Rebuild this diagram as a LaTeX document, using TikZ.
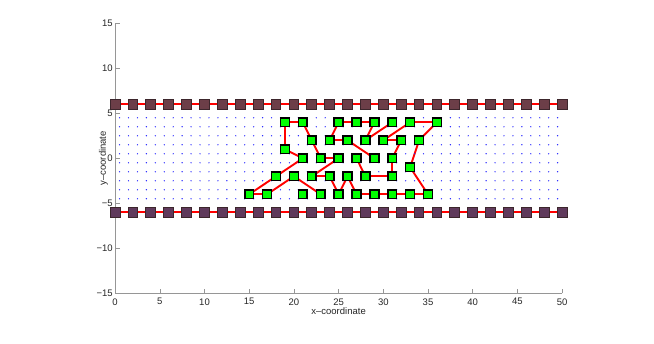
\documentclass[tikz,border=0pt]{standalone}
\usepackage{fontspec}
\setmainfont{Liberation Sans}
\pgfdeclarelayer{bg}
\pgfsetlayers{bg,main}
\definecolor{gfill}{RGB}{0,255,0}
\definecolor{walltop}{RGB}{108,62,72}
\definecolor{wallbot}{RGB}{96,58,92}
\definecolor{wallline}{RGB}{60,38,44}
\definecolor{dotc}{RGB}{30,30,255}
\definecolor{axisc}{RGB}{150,150,150}
\begin{document}
\begin{tikzpicture}[x=8.94pt,y=9pt,
  gnode/.style={rectangle, minimum size=8.8pt, inner sep=0pt, fill=gfill, draw=black, line width=1.5pt},
  wallbox/.style={rectangle, minimum size=9.8pt, inner sep=0pt, draw=wallline, line width=1pt},
  link/.style={red, line width=1.9pt},
  axisline/.style={axisc, line width=1.1pt},
  ticklbl/.style={font=\fontsize{9.5}{11}\selectfont, inner sep=0pt, text=black!85},
  axlbl/.style={font=\fontsize{9.5}{11}\selectfont, inner sep=0pt, text=black!85}]
\useasboundingbox (-12.875,-20.633) rectangle (60.28,17.589);
% grid of dots
\foreach \i in {0,...,49}{\foreach \j in {0,...,9}{\fill[dotc] (\i+0.5,\j-4.5) circle (0.7pt);}}
% axes
\draw[axisline] (0,15) -- (0,-15) -- (50,-15);
\foreach \x in {0,5,...,50}{
  \draw[axisline, line width=0.6pt] (\x,-15) -- ++(0,0.5);
  \node[ticklbl, anchor=north] (xt\x) at (\x,-15.55) {\x};
}
\foreach \y/\t in {15/15,10/10,5/5,0/0,-5/−5,-10/−10,-15/−15}{
  \draw[axisline, line width=0.6pt] (0,\y) -- ++(0.5,0);
  \node[ticklbl, anchor=east] (yt\t) at (-0.25,\y) {\t};
}
\node[axlbl, anchor=base] (xlab) at (25,-17.4) {x–coordinate};
\node[axlbl, rotate=90] (ylab) at (-1.3,0) {y–coordinate};
% walls
\foreach \i in {0,...,25}{
  \node[wallbox, fill=walltop] (wt\i) at (2*\i,6) {};
  \node[wallbox, fill=wallbot] (wb\i) at (2*\i,-6) {};
}
\begin{pgfonlayer}{bg}
\draw[link] (wt0.center) -- (wt25.center);
\draw[link] (wb0.center) -- (wb25.center);
\end{pgfonlayer}
% green nodes
\foreach \x in {19,21,25,27,29,31,33,36}{\node[gnode] (a\x) at (\x,4) {};}
\foreach \x in {22,24,26,28,30,32,34}{\node[gnode] (b\x) at (\x,2) {};}
\node[gnode] (c19) at (19,1) {};
\foreach \x in {21,23,25,27,29,31}{\node[gnode] (d\x) at (\x,0) {};}
\node[gnode] (e33) at (33,-1) {};
\foreach \x in {18,20,22,24,26,28,31}{\node[gnode] (f\x) at (\x,-2) {};}
\foreach \x in {15,17,21,23,25,27,29,31,33,35}{\node[gnode] (h\x) at (\x,-4) {};}
% links
\begin{pgfonlayer}{bg}
\foreach \p/\q in {a19/a21, a19/c19, a21/b22, b22/d23, c19/d21, d21/f18, f18/h15, h15/h17,
  h17/f20, f20/h23, d23/d25, d25/f22, f22/f24, f24/h25, h25/f26, f26/h27, h27/h29, h29/h31,
  h31/h33, h33/h35, h35/e33, e33/b34, b34/a36, a36/a33, a33/b30, b30/b32, b32/d31, d31/f31,
  f31/f28, f28/d27, b24/a25, b24/b26, b26/d29, a25/a27, a27/a29, a29/b28, b28/a31}{
  \draw[link] (\p.center) -- (\q.center);
}
\end{pgfonlayer}
\end{tikzpicture}
\end{document}
